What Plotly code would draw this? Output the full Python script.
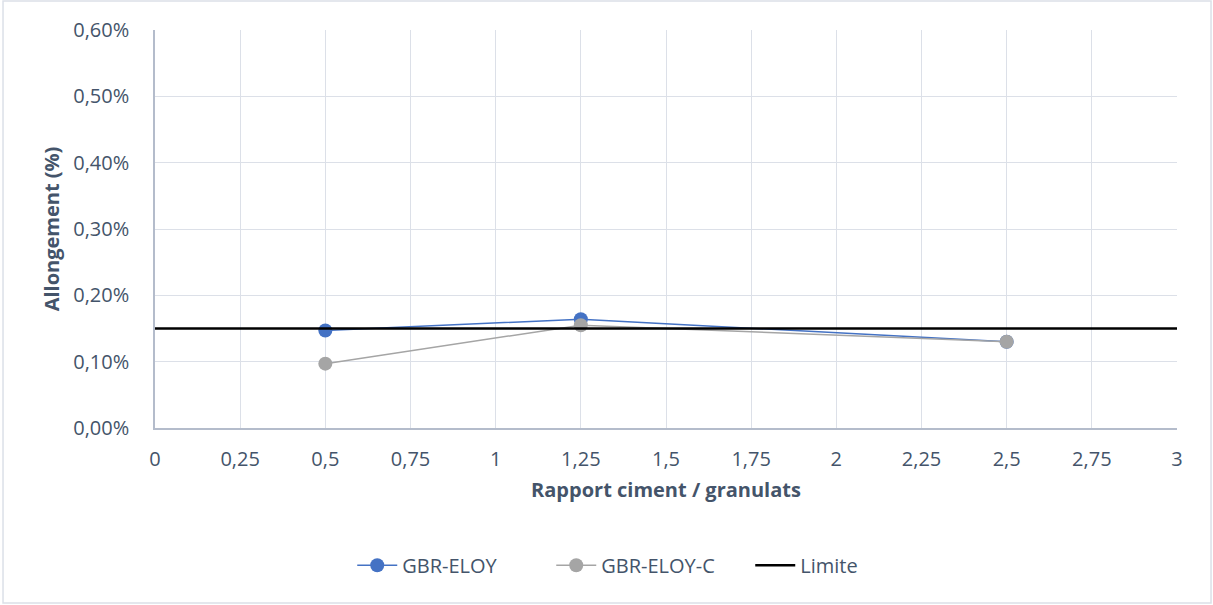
import plotly.graph_objects as go

x_vals = [0.5, 1.25, 2.5]
gbr_eloy = [0.00147, 0.00164, 0.00130]
gbr_eloy_c = [0.00097, 0.00155, 0.00130]
limite_x = [0, 3]
limite_y = [0.0015, 0.0015]

x_tickvals = [0, 0.25, 0.5, 0.75, 1, 1.25, 1.5, 1.75, 2, 2.25, 2.5, 2.75, 3]
x_ticktext = ["0", "0,25", "0,5", "0,75", "1", "1,25", "1,5", "1,75", "2", "2,25", "2,5", "2,75", "3"]
y_tickvals = [0, 0.001, 0.002, 0.003, 0.004, 0.005, 0.006]
y_ticktext = ["0,00%", "0,10%", "0,20%", "0,30%", "0,40%", "0,50%", "0,60%"]

txt = "#44546A"
grid = "#DCE0E8"
axisline = "#B4BCCB"
font_family = "Open Sans, Liberation Sans, sans-serif"
fs = 20

fig = go.Figure()
fig.add_trace(go.Scatter(x=x_vals, y=gbr_eloy, name="GBR-ELOY", mode="lines+markers",
                         line=dict(color="#4472C4", width=1.5),
                         marker=dict(color="#4472C4", size=14)))
fig.add_trace(go.Scatter(x=x_vals, y=gbr_eloy_c, name="GBR-ELOY-C", mode="lines+markers",
                         line=dict(color="#A5A5A5", width=1.5),
                         marker=dict(color="#A5A5A5", size=14)))
fig.add_trace(go.Scatter(x=limite_x, y=limite_y, name="Limite", mode="lines",
                         line=dict(color="#000000", width=2.5)))

fig.update_layout(
    width=1213, height=605,
    paper_bgcolor="white", plot_bgcolor="white",
    margin=dict(l=155, r=36, t=30, b=177),
    font=dict(family=font_family, size=fs, color=txt),
    showlegend=True,
    legend=dict(orientation="h", x=0.193, xanchor="left", y=-0.345, yanchor="middle",
                font=dict(size=fs, color=txt), traceorder="normal",
                itemwidth=40, entrywidth=144, entrywidthmode="pixels"),
    xaxis=dict(range=[0, 3], tickvals=x_tickvals, ticktext=x_ticktext,
               showgrid=True, gridcolor=grid, gridwidth=1,
               showline=True, linecolor=axisline, linewidth=1.5,
               zeroline=False, ticks="", tickfont=dict(size=fs, color=txt),
               ticklabelstandoff=12,
               title=dict(text="<b>Rapport ciment / granulats</b>", font=dict(size=fs, color=txt), standoff=12)),
    yaxis=dict(range=[0, 0.006], tickvals=y_tickvals, ticktext=y_ticktext,
               showgrid=True, gridcolor=grid, gridwidth=1,
               showline=True, linecolor=axisline, linewidth=1.5,
               zeroline=False, ticks="", tickfont=dict(size=fs, color=txt),
               ticklabelstandoff=20,
               title=dict(text="<b>Allongement (%)</b>", font=dict(size=fs, color=txt), standoff=8)),
    shapes=[dict(type="rect", xref="paper", yref="paper", x0=-0.1487, x1=1.0333, y0=-0.4397, y1=1.0729,
                 line=dict(color="#DCE0E8", width=1.5), layer="below")],
)

fig.write_html("out.html", config={"displayModeBar": False},
               post_script="document.body.style.margin='0';")
